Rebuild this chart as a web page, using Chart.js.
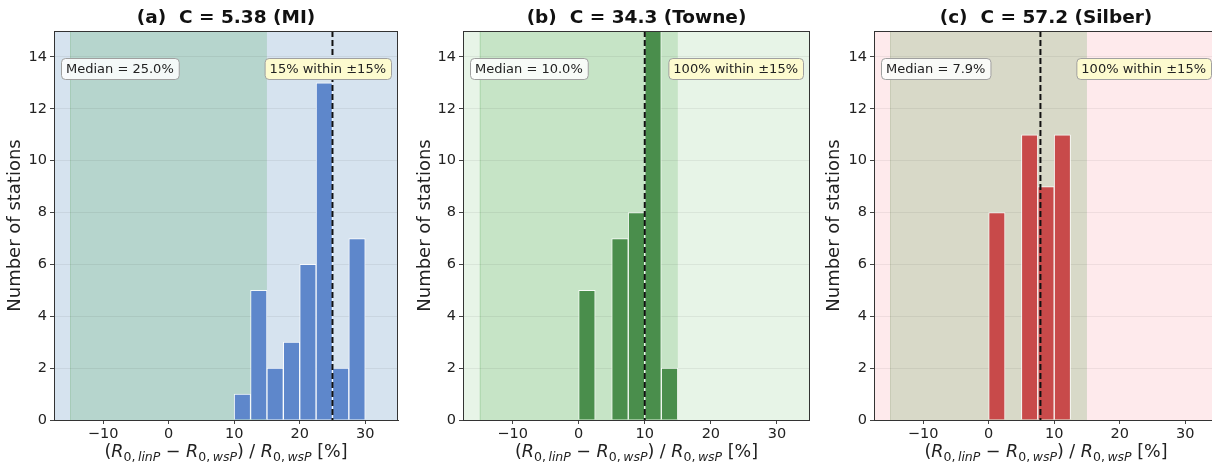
<!DOCTYPE html>
<html>
<head>
<meta charset="utf-8">
<script src="https://cdn.jsdelivr.net/npm/chart.js@4.4.1/dist/chart.umd.min.js"></script>
<style>
  html, body { margin: 0; padding: 0; background: #fff; overflow: hidden; }
  #wrap { position: relative; width: 1212px; height: 465px; overflow: hidden; }
  canvas { position: absolute; top: 0; }
</style>
</head>
<body>
<div id="wrap">
  <canvas id="panelA" width="405" height="465" style="left:0px"></canvas>
  <canvas id="panelB" width="405" height="465" style="left:405px"></canvas>
  <canvas id="panelC" width="420" height="465" style="left:810px"></canvas>
</div>
<script>
// histogram bins (centres, 2.5 % wide) and station counts per method
const binCenters = [1.25, 3.75, 6.25, 8.75, 11.25, 13.75, 16.25, 18.75, 21.25, 23.75, 26.25, 28.75];
const countsMI     = [0, 0, 0, 0, 1, 5, 2, 3, 6, 13, 2, 7];
const countsTowne  = [5, 0, 7, 8, 17, 2, 0, 0, 0, 0, 0, 0];
const countsSilber = [8, 0, 11, 9, 11, 0, 0, 0, 0, 0, 0, 0];

const panelTitles = ['(a)  C = 5.38 (MI)', '(b)  C = 34.3 (Towne)', '(c)  C = 57.2 (Silber)'];
const medians = [25.0, 10.0, 7.9];
const medianLabels = ['Median = 25.0%', 'Median = 10.0%', 'Median = 7.9%'];
const withinLabels = ['15% within \u00b115%', '100% within \u00b115%', '100% within \u00b115%'];
const spanRange = [-15, 15];

const xTicks = [-10, 0, 10, 20, 30];
const xTickLabels = ['\u221210', '0', '10', '20', '30'];
const yTicks = [0, 2, 4, 6, 8, 10, 12, 14];
const yLabel = 'Number of stations';

const FONT = '"DejaVu Sans", sans-serif';

function drawXLabel(ctx, cx, cy) {
  // mathtext-like label: (R_{0, linP} − R_{0, wsP}) / R_{0, wsP} [%]
  const B = 17.5, S = 12.5, D = 4;
  const parts = [
    ['(', B, '', 0], ['R', B, 'italic ', 0], ['0,', S, '', D], ['\u2009linP', S, 'italic ', D],
    [' \u2212 ', B, '', 0], ['R', B, 'italic ', 0], ['0,', S, '', D], ['\u2009wsP', S, 'italic ', D],
    [') / ', B, '', 0], ['R', B, 'italic ', 0], ['0,', S, '', D], ['\u2009wsP', S, 'italic ', D],
    [' [%]', B, '', 0]
  ];
  let total = 0;
  parts.forEach(p => { ctx.font = p[2] + p[1] + 'px ' + FONT; total += ctx.measureText(p[0]).width; });
  let x = cx - total / 2;
  ctx.textAlign = 'left';
  ctx.textBaseline = 'alphabetic';
  ctx.fillStyle = '#222';
  parts.forEach(p => {
    ctx.font = p[2] + p[1] + 'px ' + FONT;
    ctx.fillText(p[0], x, cy + p[3]);
    x += ctx.measureText(p[0]).width;
  });
}

function textBox(ctx, text, x, cy, fill, alignRight) {
  ctx.font = '13px ' + FONT;
  const w = ctx.measureText(text).width + 10, h = 21;
  const left = alignRight ? x - w : x;
  ctx.beginPath();
  ctx.roundRect(left + 0.5, cy - h / 2 + 0.5, w, h, 4);
  ctx.fillStyle = fill;
  ctx.fill();
  ctx.strokeStyle = '#a0a0a0';
  ctx.lineWidth = 1;
  ctx.stroke();
  ctx.fillStyle = '#222';
  ctx.textAlign = 'left';
  ctx.textBaseline = 'middle';
  ctx.fillText(text, left + 5, cy + 1);
}

const decorPlugin = {
  id: 'decor',
  beforeDraw(chart, args, opts) {
    const { ctx, chartArea: a, scales: { x } } = chart;
    ctx.save();
    ctx.fillStyle = opts.bg;
    ctx.fillRect(a.left, a.top, a.width, a.height);
    const x0 = x.getPixelForValue(spanRange[0]);
    const x1 = x.getPixelForValue(spanRange[1]);
    ctx.fillStyle = opts.span;
    ctx.fillRect(x0, a.top, x1 - x0, a.height);
    ctx.strokeStyle = opts.spanEdge;
    ctx.lineWidth = 1;
    ctx.beginPath();
    ctx.moveTo(Math.round(x0) + 0.5, a.top); ctx.lineTo(Math.round(x0) + 0.5, a.bottom);
    ctx.stroke();
    ctx.restore();
  },
  afterDatasetsDraw(chart, args, opts) {
    const { ctx, chartArea: a, scales: { x } } = chart;
    ctx.save();
    // median line
    const mx = x.getPixelForValue(medians[opts.idx]);
    ctx.strokeStyle = '#111';
    ctx.lineWidth = 2;
    ctx.setLineDash([6, 3]);
    ctx.beginPath();
    ctx.moveTo(mx, a.top); ctx.lineTo(mx, a.bottom);
    ctx.stroke();
    ctx.setLineDash([]);
    // top / right spines
    ctx.strokeStyle = '#333';
    ctx.lineWidth = 1;
    ctx.beginPath();
    ctx.moveTo(a.left, a.top + 0.5); ctx.lineTo(a.right, a.top + 0.5);
    ctx.moveTo(a.right - 0.5, a.top); ctx.lineTo(a.right - 0.5, a.bottom);
    ctx.stroke();
    // annotation boxes
    textBox(ctx, medianLabels[opts.idx], a.left + 7, 68.5, 'rgba(255,255,255,0.85)', false);
    textBox(ctx, withinLabels[opts.idx], a.right - 7, 68.5, '#fdfbcf', true);
    ctx.restore();
  },
  afterDraw(chart, args, opts) {
    const { ctx, chartArea: a } = chart;
    ctx.save();
    // title
    ctx.font = 'bold 18.5px ' + FONT;
    ctx.fillStyle = '#111';
    ctx.textAlign = 'center';
    ctx.textBaseline = 'middle';
    ctx.fillText(panelTitles[opts.idx], (a.left + a.right) / 2, 18);
    // y label
    ctx.font = '18px ' + FONT;
    ctx.fillStyle = '#222';
    ctx.translate(opts.yLabelX, (a.top + a.bottom) / 2);
    ctx.rotate(-Math.PI / 2);
    ctx.fillText(yLabel, 0, 0);
    ctx.restore();
    ctx.save();
    drawXLabel(ctx, (a.left + a.right) / 2, 457);
    ctx.restore();
  }
};

function makePanel(id, idx, counts, colors, yAxisWidth, rightPad, yLabelX) {
  const points = binCenters.map((c, i) => ({ x: c, y: counts[i] === 0 ? null : counts[i] }));
  return new Chart(document.getElementById(id), {
    type: 'bar',
    data: {
      datasets: [{
        data: points,
        backgroundColor: colors.bar,
        borderColor: 'rgba(255,255,255,0.85)',
        borderWidth: 1,
        borderSkipped: 'start',
        barPercentage: 1,
        categoryPercentage: 1
      }]
    },
    options: {
      responsive: false,
      animation: false,
      layout: { padding: { top: 31, right: rightPad, left: 0, bottom: 0 } },
      plugins: {
        legend: { display: false },
        tooltip: { enabled: false },
        decor: { idx: idx, bg: colors.bg, span: colors.span, spanEdge: colors.spanEdge, yLabelX: yLabelX }
      },
      scales: {
        x: {
          type: 'linear',
          offset: false,
          min: -17.5,
          max: 35,
          afterBuildTicks: s => { s.ticks = xTicks.map(v => ({ value: v })); },
          afterFit: s => { s.height = 45; },
          ticks: {
            callback: (v, i) => xTickLabels[i],
            font: { family: FONT, size: 14.5 },
            color: '#222',
            padding: 2,
            maxRotation: 0
          },
          grid: { offset: false, drawOnChartArea: false, drawTicks: true, tickLength: 4, tickColor: '#444' },
          border: { display: true, color: '#333', width: 1 }
        },
        y: {
          min: 0,
          max: 15,
          afterBuildTicks: s => { s.ticks = yTicks.map(v => ({ value: v })); },
          afterFit: s => { s.width = yAxisWidth; },
          ticks: {
            font: { family: FONT, size: 14.5 },
            color: '#222',
            padding: 3
          },
          grid: { color: 'rgba(0,0,0,0.06)', lineWidth: 1, drawTicks: true, tickLength: 4, tickColor: '#444' },
          border: { display: true, color: '#333', width: 1 }
        }
      }
    },
    plugins: [decorPlugin]
  });
}

makePanel('panelA', 0, countsMI,
  { bar: '#5e87cb', bg: '#d6e3ef', span: '#b6d5cd', spanEdge: '#a6cbb8' }, 54, 7, 15);
makePanel('panelB', 1, countsTowne,
  { bar: '#4a8e4c', bg: '#e7f4e7', span: '#c6e4c6', spanEdge: '#b2d9b2' }, 58, -3, 20);
makePanel('panelC', 2, countsSilber,
  { bar: '#c84a4a', bg: '#feeaec', span: '#d8d9c8', spanEdge: '#c8cbb6' }, 64, 12, 24);
</script>
</body>
</html>
